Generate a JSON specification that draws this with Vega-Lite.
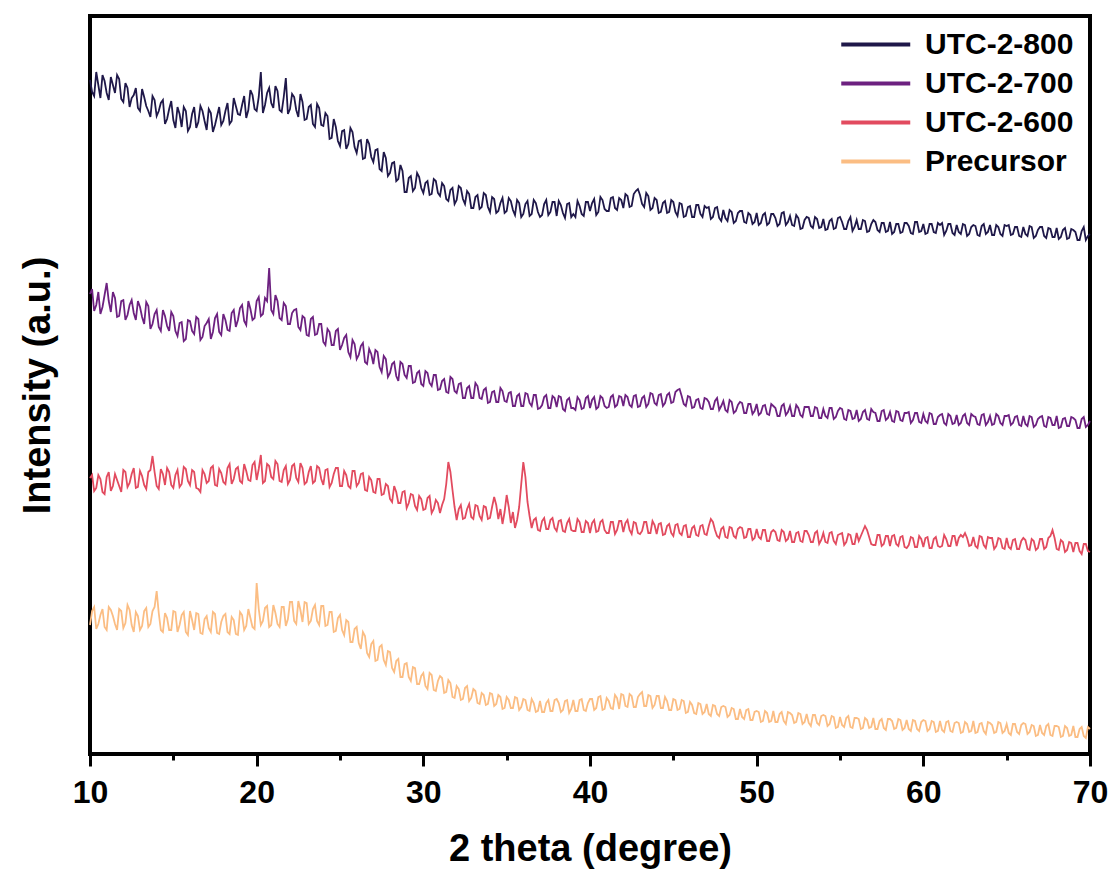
{
  "$schema": "https://vega.github.io/schema/vega-lite/v6.json",
  "width": 1000,
  "height": 738,
  "autosize": {"type": "none"},
  "padding": {"left": 90, "top": 16, "right": 22, "bottom": 119},
  "background": "white",
  "config": {
    "view": {"stroke": "black", "strokeWidth": 4},
    "font": "Liberation Sans"
  },
  "datasets": {
    "utc800": [
      {"t":10,"i":672},{"t":10.125,"i":660},{"t":10.25,"i":656},{"t":10.375,"i":680},{"t":10.5,"i":667},{"t":10.625,"i":654},{"t":10.75,"i":677},{"t":10.875,"i":671},
      {"t":11,"i":659},{"t":11.125,"i":652},{"t":11.25,"i":675},{"t":11.375,"i":667},{"t":11.5,"i":659},{"t":11.625,"i":677},{"t":11.75,"i":673},{"t":11.875,"i":653},
      {"t":12,"i":650},{"t":12.125,"i":669},{"t":12.25,"i":664},{"t":12.375,"i":645},{"t":12.5,"i":654},{"t":12.625,"i":657},{"t":12.75,"i":664},{"t":12.875,"i":644},
      {"t":13,"i":641},{"t":13.125,"i":663},{"t":13.25,"i":655},{"t":13.375,"i":646},{"t":13.5,"i":641},{"t":13.625,"i":635},{"t":13.75,"i":656},{"t":13.875,"i":652},
      {"t":14,"i":636},{"t":14.125,"i":641},{"t":14.25,"i":649},{"t":14.375,"i":652},{"t":14.5,"i":628},{"t":14.625,"i":633},{"t":14.75,"i":643},{"t":14.875,"i":651},
      {"t":15,"i":632},{"t":15.125,"i":624},{"t":15.25,"i":645},{"t":15.375,"i":638},{"t":15.5,"i":625},{"t":15.625,"i":645},{"t":15.75,"i":641},{"t":15.875,"i":621},
      {"t":16,"i":625},{"t":16.125,"i":638},{"t":16.25,"i":645},{"t":16.375,"i":624},{"t":16.5,"i":630},{"t":16.625,"i":646},{"t":16.75,"i":641},{"t":16.875,"i":631},
      {"t":17,"i":622},{"t":17.125,"i":643},{"t":17.25,"i":639},{"t":17.375,"i":620},{"t":17.5,"i":627},{"t":17.625,"i":636},{"t":17.75,"i":645},{"t":17.875,"i":627},
      {"t":18,"i":631},{"t":18.125,"i":641},{"t":18.25,"i":649},{"t":18.375,"i":628},{"t":18.5,"i":631},{"t":18.625,"i":654},{"t":18.75,"i":646},{"t":18.875,"i":638},
      {"t":19,"i":637},{"t":19.125,"i":647},{"t":19.25,"i":656},{"t":19.375,"i":634},{"t":19.5,"i":642},{"t":19.625,"i":662},{"t":19.75,"i":657},{"t":19.875,"i":643},
      {"t":20,"i":641},{"t":20.125,"i":655},{"t":20.25,"i":680},{"t":20.375,"i":639},{"t":20.5,"i":647},{"t":20.625,"i":659},{"t":20.75,"i":664},{"t":20.875,"i":649},
      {"t":21,"i":644},{"t":21.125,"i":666},{"t":21.25,"i":661},{"t":21.375,"i":642},{"t":21.5,"i":640},{"t":21.625,"i":655},{"t":21.75,"i":674},{"t":21.875,"i":638},
      {"t":22,"i":643},{"t":22.125,"i":658},{"t":22.25,"i":655},{"t":22.375,"i":642},{"t":22.5,"i":635},{"t":22.625,"i":658},{"t":22.75,"i":650},{"t":22.875,"i":632},
      {"t":23,"i":633},{"t":23.125,"i":645},{"t":23.25,"i":647},{"t":23.375,"i":628},{"t":23.5,"i":625},{"t":23.625,"i":648},{"t":23.75,"i":644},{"t":23.875,"i":627},
      {"t":24,"i":626},{"t":24.125,"i":639},{"t":24.25,"i":636},{"t":24.375,"i":613},{"t":24.5,"i":614},{"t":24.625,"i":633},{"t":24.75,"i":625},{"t":24.875,"i":611},
      {"t":25,"i":606},{"t":25.125,"i":621},{"t":25.25,"i":622},{"t":25.375,"i":603},{"t":25.5,"i":608},{"t":25.625,"i":624},{"t":25.75,"i":620},{"t":25.875,"i":605},
      {"t":26,"i":599},{"t":26.125,"i":611},{"t":26.25,"i":612},{"t":26.375,"i":593},{"t":26.5,"i":594},{"t":26.625,"i":613},{"t":26.75,"i":608},{"t":26.875,"i":595},
      {"t":27,"i":590},{"t":27.125,"i":602},{"t":27.25,"i":603},{"t":27.375,"i":583},{"t":27.5,"i":581},{"t":27.625,"i":600},{"t":27.75,"i":594},{"t":27.875,"i":576},
      {"t":28,"i":579},{"t":28.125,"i":589},{"t":28.25,"i":590},{"t":28.375,"i":571},{"t":28.5,"i":573},{"t":28.625,"i":587},{"t":28.75,"i":581},{"t":28.875,"i":560},
      {"t":29,"i":560},{"t":29.125,"i":574},{"t":29.25,"i":576},{"t":29.375,"i":561},{"t":29.5,"i":564},{"t":29.625,"i":579},{"t":29.75,"i":575},{"t":29.875,"i":564},
      {"t":30,"i":559},{"t":30.125,"i":569},{"t":30.25,"i":571},{"t":30.375,"i":557},{"t":30.5,"i":558},{"t":30.625,"i":573},{"t":30.75,"i":571},{"t":30.875,"i":559},
      {"t":31,"i":556},{"t":31.125,"i":569},{"t":31.25,"i":566},{"t":31.375,"i":553},{"t":31.5,"i":551},{"t":31.625,"i":562},{"t":31.75,"i":564},{"t":31.875,"i":548},
      {"t":32,"i":552},{"t":32.125,"i":566},{"t":32.25,"i":564},{"t":32.375,"i":553},{"t":32.5,"i":548},{"t":32.625,"i":561},{"t":32.75,"i":558},{"t":32.875,"i":544},
      {"t":33,"i":544},{"t":33.125,"i":555},{"t":33.25,"i":557},{"t":33.375,"i":543},{"t":33.5,"i":545},{"t":33.625,"i":559},{"t":33.75,"i":557},{"t":33.875,"i":545},
      {"t":34,"i":540},{"t":34.125,"i":555},{"t":34.25,"i":553},{"t":34.375,"i":539},{"t":34.5,"i":541},{"t":34.625,"i":549},{"t":34.75,"i":554},{"t":34.875,"i":539},
      {"t":35,"i":541},{"t":35.125,"i":554},{"t":35.25,"i":551},{"t":35.375,"i":542},{"t":35.5,"i":537},{"t":35.625,"i":552},{"t":35.75,"i":549},{"t":35.875,"i":535},
      {"t":36,"i":538},{"t":36.125,"i":548},{"t":36.25,"i":551},{"t":36.375,"i":536},{"t":36.5,"i":538},{"t":36.625,"i":552},{"t":36.75,"i":549},{"t":36.875,"i":540},
      {"t":37,"i":535},{"t":37.125,"i":537},{"t":37.25,"i":548},{"t":37.375,"i":552},{"t":37.5,"i":537},{"t":37.625,"i":540},{"t":37.75,"i":550},{"t":37.875,"i":550},
      {"t":38,"i":536},{"t":38.125,"i":551},{"t":38.25,"i":547},{"t":38.375,"i":539},{"t":38.5,"i":534},{"t":38.625,"i":548},{"t":38.75,"i":549},{"t":38.875,"i":535},
      {"t":39,"i":538},{"t":39.125,"i":535},{"t":39.25,"i":551},{"t":39.375,"i":546},{"t":39.5,"i":538},{"t":39.625,"i":536},{"t":39.75,"i":550},{"t":39.875,"i":550},
      {"t":40,"i":541},{"t":40.125,"i":549},{"t":40.25,"i":553},{"t":40.375,"i":537},{"t":40.5,"i":540},{"t":40.625,"i":555},{"t":40.75,"i":552},{"t":40.875,"i":543},
      {"t":41,"i":541},{"t":41.125,"i":541},{"t":41.25,"i":554},{"t":41.375,"i":555},{"t":41.5,"i":544},{"t":41.625,"i":542},{"t":41.75,"i":554},{"t":41.875,"i":552},
      {"t":42,"i":544},{"t":42.125,"i":558},{"t":42.25,"i":556},{"t":42.375,"i":545},{"t":42.5,"i":546},{"t":42.625,"i":558},{"t":42.75,"i":561},{"t":42.875,"i":563},
      {"t":43,"i":557},{"t":43.125,"i":548},{"t":43.25,"i":545},{"t":43.375,"i":559},{"t":43.5,"i":556},{"t":43.625,"i":542},{"t":43.75,"i":544},{"t":43.875,"i":554},
      {"t":44,"i":552},{"t":44.125,"i":539},{"t":44.25,"i":540},{"t":44.375,"i":549},{"t":44.5,"i":551},{"t":44.625,"i":539},{"t":44.75,"i":540},{"t":44.875,"i":552},
      {"t":45,"i":550},{"t":45.125,"i":540},{"t":45.25,"i":536},{"t":45.375,"i":549},{"t":45.5,"i":548},{"t":45.625,"i":535},{"t":45.75,"i":536},{"t":45.875,"i":545},
      {"t":46,"i":546},{"t":46.125,"i":535},{"t":46.25,"i":535},{"t":46.375,"i":547},{"t":46.5,"i":547},{"t":46.625,"i":538},{"t":46.75,"i":535},{"t":46.875,"i":546},
      {"t":47,"i":544},{"t":47.125,"i":545},{"t":47.25,"i":533},{"t":47.375,"i":535},{"t":47.5,"i":544},{"t":47.625,"i":545},{"t":47.75,"i":534},{"t":47.875,"i":531},
      {"t":48,"i":542},{"t":48.125,"i":534},{"t":48.25,"i":531},{"t":48.375,"i":542},{"t":48.5,"i":540},{"t":48.625,"i":529},{"t":48.75,"i":531},{"t":48.875,"i":539},
      {"t":49,"i":541},{"t":49.125,"i":541},{"t":49.25,"i":530},{"t":49.375,"i":529},{"t":49.5,"i":539},{"t":49.625,"i":537},{"t":49.75,"i":528},{"t":49.875,"i":530},
      {"t":50,"i":539},{"t":50.125,"i":527},{"t":50.25,"i":529},{"t":50.375,"i":537},{"t":50.5,"i":539},{"t":50.625,"i":527},{"t":50.75,"i":529},{"t":50.875,"i":538},
      {"t":51,"i":538},{"t":51.125,"i":534},{"t":51.25,"i":526},{"t":51.375,"i":528},{"t":51.5,"i":539},{"t":51.625,"i":540},{"t":51.75,"i":527},{"t":51.875,"i":530},
      {"t":52,"i":536},{"t":52.125,"i":527},{"t":52.25,"i":526},{"t":52.375,"i":537},{"t":52.5,"i":534},{"t":52.625,"i":523},{"t":52.75,"i":524},{"t":52.875,"i":532},
      {"t":53,"i":535},{"t":53.125,"i":534},{"t":53.25,"i":526},{"t":53.375,"i":524},{"t":53.5,"i":535},{"t":53.625,"i":533},{"t":53.75,"i":524},{"t":53.875,"i":525},
      {"t":54,"i":533},{"t":54.125,"i":522},{"t":54.25,"i":523},{"t":54.375,"i":531},{"t":54.5,"i":533},{"t":54.625,"i":523},{"t":54.75,"i":524},{"t":54.875,"i":534},
      {"t":55,"i":535},{"t":55.125,"i":530},{"t":55.25,"i":523},{"t":55.375,"i":523},{"t":55.5,"i":531},{"t":55.625,"i":535},{"t":55.75,"i":521},{"t":55.875,"i":525},
      {"t":56,"i":532},{"t":56.125,"i":523},{"t":56.25,"i":523},{"t":56.375,"i":532},{"t":56.5,"i":531},{"t":56.625,"i":520},{"t":56.75,"i":521},{"t":56.875,"i":528},
      {"t":57,"i":532},{"t":57.125,"i":530},{"t":57.25,"i":522},{"t":57.375,"i":520},{"t":57.5,"i":529},{"t":57.625,"i":529},{"t":57.75,"i":520},{"t":57.875,"i":521},
      {"t":58,"i":530},{"t":58.125,"i":518},{"t":58.25,"i":520},{"t":58.375,"i":528},{"t":58.5,"i":528},{"t":58.625,"i":519},{"t":58.75,"i":520},{"t":58.875,"i":529},
      {"t":59,"i":529},{"t":59.125,"i":526},{"t":59.25,"i":519},{"t":59.375,"i":518},{"t":59.5,"i":530},{"t":59.625,"i":530},{"t":59.75,"i":520},{"t":59.875,"i":521},
      {"t":60,"i":528},{"t":60.125,"i":518},{"t":60.25,"i":519},{"t":60.375,"i":528},{"t":60.5,"i":528},{"t":60.625,"i":520},{"t":60.75,"i":519},{"t":60.875,"i":529},
      {"t":61,"i":527},{"t":61.125,"i":529},{"t":61.25,"i":517},{"t":61.375,"i":521},{"t":61.5,"i":528},{"t":61.625,"i":528},{"t":61.75,"i":519},{"t":61.875,"i":517},
      {"t":62,"i":527},{"t":62.125,"i":520},{"t":62.25,"i":518},{"t":62.375,"i":528},{"t":62.5,"i":527},{"t":62.625,"i":516},{"t":62.75,"i":518},{"t":62.875,"i":525},
      {"t":63,"i":527},{"t":63.125,"i":526},{"t":63.25,"i":517},{"t":63.375,"i":516},{"t":63.5,"i":526},{"t":63.625,"i":528},{"t":63.75,"i":518},{"t":63.875,"i":520},
      {"t":64,"i":527},{"t":64.125,"i":517},{"t":64.25,"i":517},{"t":64.375,"i":527},{"t":64.5,"i":525},{"t":64.625,"i":518},{"t":64.75,"i":516},{"t":64.875,"i":527},
      {"t":65,"i":526},{"t":65.125,"i":527},{"t":65.25,"i":517},{"t":65.375,"i":518},{"t":65.5,"i":525},{"t":65.625,"i":525},{"t":65.75,"i":516},{"t":65.875,"i":515},
      {"t":66,"i":525},{"t":66.125,"i":518},{"t":66.25,"i":516},{"t":66.375,"i":526},{"t":66.5,"i":525},{"t":66.625,"i":514},{"t":66.75,"i":516},{"t":66.875,"i":522},
      {"t":67,"i":525},{"t":67.125,"i":525},{"t":67.25,"i":516},{"t":67.375,"i":514},{"t":67.5,"i":524},{"t":67.625,"i":523},{"t":67.75,"i":515},{"t":67.875,"i":515},
      {"t":68,"i":524},{"t":68.125,"i":513},{"t":68.25,"i":515},{"t":68.375,"i":522},{"t":68.5,"i":524},{"t":68.625,"i":513},{"t":68.75,"i":514},{"t":68.875,"i":523},
      {"t":69,"i":522},{"t":69.125,"i":520},{"t":69.25,"i":512},{"t":69.375,"i":512},{"t":69.5,"i":521},{"t":69.625,"i":525},{"t":69.75,"i":512},{"t":69.875,"i":516},
      {"t":70,"i":518}
    ],
    "utc700": [
      {"t":10,"i":458},{"t":10.125,"i":463},{"t":10.25,"i":441},{"t":10.375,"i":447},{"t":10.5,"i":460},{"t":10.625,"i":438},{"t":10.75,"i":445},{"t":10.875,"i":457},
      {"t":11,"i":469},{"t":11.125,"i":451},{"t":11.25,"i":440},{"t":11.375,"i":460},{"t":11.5,"i":454},{"t":11.625,"i":435},{"t":11.75,"i":436},{"t":11.875,"i":451},
      {"t":12,"i":452},{"t":12.125,"i":432},{"t":12.25,"i":437},{"t":12.375,"i":447},{"t":12.5,"i":452},{"t":12.625,"i":439},{"t":12.75,"i":432},{"t":12.875,"i":451},
      {"t":13,"i":445},{"t":13.125,"i":435},{"t":13.25,"i":428},{"t":13.375,"i":450},{"t":13.5,"i":446},{"t":13.625,"i":423},{"t":13.75,"i":428},{"t":13.875,"i":438},
      {"t":14,"i":442},{"t":14.125,"i":425},{"t":14.25,"i":421},{"t":14.375,"i":442},{"t":14.5,"i":436},{"t":14.625,"i":426},{"t":14.75,"i":421},{"t":14.875,"i":440},
      {"t":15,"i":436},{"t":15.125,"i":421},{"t":15.25,"i":416},{"t":15.375,"i":429},{"t":15.5,"i":430},{"t":15.625,"i":411},{"t":15.75,"i":413},{"t":15.875,"i":432},
      {"t":16,"i":431},{"t":16.125,"i":421},{"t":16.25,"i":418},{"t":16.375,"i":435},{"t":16.5,"i":433},{"t":16.625,"i":412},{"t":16.75,"i":415},{"t":16.875,"i":426},
      {"t":17,"i":429},{"t":17.125,"i":433},{"t":17.25,"i":413},{"t":17.375,"i":420},{"t":17.5,"i":434},{"t":17.625,"i":438},{"t":17.75,"i":420},{"t":17.875,"i":417},
      {"t":18,"i":438},{"t":18.125,"i":432},{"t":18.25,"i":422},{"t":18.375,"i":421},{"t":18.5,"i":439},{"t":18.625,"i":442},{"t":18.75,"i":425},{"t":18.875,"i":432},
      {"t":19,"i":444},{"t":19.125,"i":447},{"t":19.25,"i":431},{"t":19.375,"i":427},{"t":19.5,"i":451},{"t":19.625,"i":443},{"t":19.75,"i":432},{"t":19.875,"i":434},
      {"t":20,"i":451},{"t":20.125,"i":455},{"t":20.25,"i":436},{"t":20.375,"i":438},{"t":20.5,"i":454},{"t":20.625,"i":451},{"t":20.75,"i":484},{"t":20.875,"i":442},
      {"t":21,"i":438},{"t":21.125,"i":457},{"t":21.25,"i":451},{"t":21.375,"i":434},{"t":21.5,"i":432},{"t":21.625,"i":449},{"t":21.75,"i":446},{"t":21.875,"i":428},
      {"t":22,"i":428},{"t":22.125,"i":439},{"t":22.25,"i":442},{"t":22.375,"i":443},{"t":22.5,"i":425},{"t":22.625,"i":422},{"t":22.75,"i":436},{"t":22.875,"i":434},
      {"t":23,"i":417},{"t":23.125,"i":416},{"t":23.25,"i":433},{"t":23.375,"i":435},{"t":23.5,"i":417},{"t":23.625,"i":418},{"t":23.75,"i":428},{"t":23.875,"i":428},
      {"t":24,"i":410},{"t":24.125,"i":407},{"t":24.25,"i":423},{"t":24.375,"i":420},{"t":24.5,"i":407},{"t":24.625,"i":407},{"t":24.75,"i":421},{"t":24.875,"i":423},
      {"t":25,"i":402},{"t":25.125,"i":407},{"t":25.25,"i":414},{"t":25.375,"i":417},{"t":25.5,"i":400},{"t":25.625,"i":395},{"t":25.75,"i":412},{"t":25.875,"i":408},
      {"t":26,"i":393},{"t":26.125,"i":397},{"t":26.25,"i":406},{"t":26.375,"i":409},{"t":26.5,"i":390},{"t":26.625,"i":388},{"t":26.75,"i":403},{"t":26.875,"i":398},
      {"t":27,"i":388},{"t":27.125,"i":402},{"t":27.25,"i":400},{"t":27.375,"i":385},{"t":27.5,"i":380},{"t":27.625,"i":396},{"t":27.75,"i":393},{"t":27.875,"i":375},
      {"t":28,"i":379},{"t":28.125,"i":388},{"t":28.25,"i":390},{"t":28.375,"i":376},{"t":28.5,"i":371},{"t":28.625,"i":390},{"t":28.75,"i":388},{"t":28.875,"i":377},
      {"t":29,"i":374},{"t":29.125,"i":386},{"t":29.25,"i":386},{"t":29.375,"i":369},{"t":29.5,"i":370},{"t":29.625,"i":379},{"t":29.75,"i":381},{"t":29.875,"i":368},
      {"t":30,"i":366},{"t":30.125,"i":381},{"t":30.25,"i":379},{"t":30.375,"i":369},{"t":30.5,"i":366},{"t":30.625,"i":377},{"t":30.75,"i":377},{"t":30.875,"i":362},
      {"t":31,"i":363},{"t":31.125,"i":371},{"t":31.25,"i":373},{"t":31.375,"i":360},{"t":31.5,"i":359},{"t":31.625,"i":375},{"t":31.75,"i":373},{"t":31.875,"i":361},
      {"t":32,"i":359},{"t":32.125,"i":368},{"t":32.25,"i":369},{"t":32.375,"i":354},{"t":32.5,"i":354},{"t":32.625,"i":364},{"t":32.75,"i":366},{"t":32.875,"i":354},
      {"t":33,"i":354},{"t":33.125,"i":369},{"t":33.25,"i":366},{"t":33.375,"i":354},{"t":33.5,"i":353},{"t":33.625,"i":362},{"t":33.75,"i":364},{"t":33.875,"i":349},
      {"t":34,"i":350},{"t":34.125,"i":360},{"t":34.25,"i":361},{"t":34.375,"i":350},{"t":34.5,"i":350},{"t":34.625,"i":364},{"t":34.75,"i":361},{"t":34.875,"i":351},
      {"t":35,"i":350},{"t":35.125,"i":359},{"t":35.25,"i":360},{"t":35.375,"i":346},{"t":35.5,"i":346},{"t":35.625,"i":356},{"t":35.75,"i":358},{"t":35.875,"i":346},
      {"t":36,"i":346},{"t":36.125,"i":359},{"t":36.25,"i":358},{"t":36.375,"i":349},{"t":36.5,"i":346},{"t":36.625,"i":357},{"t":36.75,"i":357},{"t":36.875,"i":343},
      {"t":37,"i":344},{"t":37.125,"i":347},{"t":37.25,"i":355},{"t":37.375,"i":357},{"t":37.5,"i":344},{"t":37.625,"i":344},{"t":37.75,"i":356},{"t":37.875,"i":354},
      {"t":38,"i":345},{"t":38.125,"i":356},{"t":38.25,"i":355},{"t":38.375,"i":343},{"t":38.5,"i":341},{"t":38.625,"i":352},{"t":38.75,"i":354},{"t":38.875,"i":344},
      {"t":39,"i":344},{"t":39.125,"i":342},{"t":39.25,"i":355},{"t":39.375,"i":352},{"t":39.5,"i":343},{"t":39.625,"i":344},{"t":39.75,"i":354},{"t":39.875,"i":356},
      {"t":40,"i":344},{"t":40.125,"i":352},{"t":40.25,"i":355},{"t":40.375,"i":343},{"t":40.5,"i":345},{"t":40.625,"i":356},{"t":40.75,"i":354},{"t":40.875,"i":346},
      {"t":41,"i":344},{"t":41.125,"i":345},{"t":41.25,"i":355},{"t":41.375,"i":357},{"t":41.5,"i":345},{"t":41.625,"i":347},{"t":41.75,"i":356},{"t":41.875,"i":355},
      {"t":42,"i":346},{"t":42.125,"i":357},{"t":42.25,"i":355},{"t":42.375,"i":347},{"t":42.5,"i":345},{"t":42.625,"i":356},{"t":42.75,"i":357},{"t":42.875,"i":345},
      {"t":43,"i":346},{"t":43.125,"i":354},{"t":43.25,"i":356},{"t":43.375,"i":345},{"t":43.5,"i":348},{"t":43.625,"i":359},{"t":43.75,"i":358},{"t":43.875,"i":349},
      {"t":44,"i":347},{"t":44.125,"i":357},{"t":44.25,"i":358},{"t":44.375,"i":346},{"t":44.5,"i":349},{"t":44.625,"i":357},{"t":44.75,"i":359},{"t":44.875,"i":349},
      {"t":45,"i":350},{"t":45.125,"i":360},{"t":45.25,"i":362},{"t":45.375,"i":363},{"t":45.5,"i":356},{"t":45.625,"i":348},{"t":45.75,"i":346},{"t":45.875,"i":356},
      {"t":46,"i":355},{"t":46.125,"i":344},{"t":46.25,"i":345},{"t":46.375,"i":352},{"t":46.5,"i":353},{"t":46.625,"i":344},{"t":46.75,"i":343},{"t":46.875,"i":354},
      {"t":47,"i":353},{"t":47.125,"i":350},{"t":47.25,"i":343},{"t":47.375,"i":343},{"t":47.5,"i":351},{"t":47.625,"i":354},{"t":47.75,"i":342},{"t":47.875,"i":346},
      {"t":48,"i":351},{"t":48.125,"i":342},{"t":48.25,"i":340},{"t":48.375,"i":352},{"t":48.5,"i":350},{"t":48.625,"i":339},{"t":48.75,"i":341},{"t":48.875,"i":347},
      {"t":49,"i":350},{"t":49.125,"i":349},{"t":49.25,"i":339},{"t":49.375,"i":339},{"t":49.5,"i":348},{"t":49.625,"i":348},{"t":49.75,"i":338},{"t":49.875,"i":341},
      {"t":50,"i":348},{"t":50.125,"i":337},{"t":50.25,"i":339},{"t":50.375,"i":346},{"t":50.5,"i":347},{"t":50.625,"i":338},{"t":50.75,"i":337},{"t":50.875,"i":348},
      {"t":51,"i":346},{"t":51.125,"i":344},{"t":51.25,"i":336},{"t":51.375,"i":336},{"t":51.5,"i":346},{"t":51.625,"i":348},{"t":51.75,"i":337},{"t":51.875,"i":340},
      {"t":52,"i":346},{"t":52.125,"i":336},{"t":52.25,"i":336},{"t":52.375,"i":347},{"t":52.5,"i":344},{"t":52.625,"i":337},{"t":52.75,"i":335},{"t":52.875,"i":345},
      {"t":53,"i":345},{"t":53.125,"i":345},{"t":53.25,"i":336},{"t":53.375,"i":336},{"t":53.5,"i":345},{"t":53.625,"i":344},{"t":53.75,"i":334},{"t":53.875,"i":334},
      {"t":54,"i":343},{"t":54.125,"i":336},{"t":54.25,"i":334},{"t":54.375,"i":344},{"t":54.5,"i":344},{"t":54.625,"i":333},{"t":54.75,"i":335},{"t":54.875,"i":341},
      {"t":55,"i":344},{"t":55.125,"i":343},{"t":55.25,"i":333},{"t":55.375,"i":332},{"t":55.5,"i":342},{"t":55.625,"i":341},{"t":55.75,"i":333},{"t":55.875,"i":334},
      {"t":56,"i":342},{"t":56.125,"i":331},{"t":56.25,"i":333},{"t":56.375,"i":340},{"t":56.5,"i":342},{"t":56.625,"i":333},{"t":56.75,"i":332},{"t":56.875,"i":343},
      {"t":57,"i":340},{"t":57.125,"i":339},{"t":57.25,"i":331},{"t":57.375,"i":331},{"t":57.5,"i":341},{"t":57.625,"i":342},{"t":57.75,"i":332},{"t":57.875,"i":334},
      {"t":58,"i":340},{"t":58.125,"i":331},{"t":58.25,"i":330},{"t":58.375,"i":341},{"t":58.5,"i":340},{"t":58.625,"i":332},{"t":58.75,"i":331},{"t":58.875,"i":339},
      {"t":59,"i":339},{"t":59.125,"i":340},{"t":59.25,"i":329},{"t":59.375,"i":332},{"t":59.5,"i":339},{"t":59.625,"i":339},{"t":59.75,"i":330},{"t":59.875,"i":329},
      {"t":60,"i":338},{"t":60.125,"i":331},{"t":60.25,"i":329},{"t":60.375,"i":339},{"t":60.5,"i":338},{"t":60.625,"i":328},{"t":60.75,"i":328},{"t":60.875,"i":335},
      {"t":61,"i":337},{"t":61.125,"i":338},{"t":61.25,"i":329},{"t":61.375,"i":327},{"t":61.5,"i":338},{"t":61.625,"i":336},{"t":61.75,"i":328},{"t":61.875,"i":329},
      {"t":62,"i":337},{"t":62.125,"i":327},{"t":62.25,"i":329},{"t":62.375,"i":336},{"t":62.5,"i":338},{"t":62.625,"i":329},{"t":62.75,"i":327},{"t":62.875,"i":338},
      {"t":63,"i":336},{"t":63.125,"i":335},{"t":63.25,"i":328},{"t":63.375,"i":327},{"t":63.5,"i":337},{"t":63.625,"i":338},{"t":63.75,"i":327},{"t":63.875,"i":330},
      {"t":64,"i":336},{"t":64.125,"i":327},{"t":64.25,"i":328},{"t":64.375,"i":338},{"t":64.5,"i":336},{"t":64.625,"i":329},{"t":64.75,"i":327},{"t":64.875,"i":336},
      {"t":65,"i":336},{"t":65.125,"i":337},{"t":65.25,"i":327},{"t":65.375,"i":329},{"t":65.5,"i":335},{"t":65.625,"i":336},{"t":65.75,"i":327},{"t":65.875,"i":326},
      {"t":66,"i":336},{"t":66.125,"i":328},{"t":66.25,"i":326},{"t":66.375,"i":336},{"t":66.5,"i":335},{"t":66.625,"i":325},{"t":66.75,"i":327},{"t":66.875,"i":333},
      {"t":67,"i":335},{"t":67.125,"i":336},{"t":67.25,"i":326},{"t":67.375,"i":325},{"t":67.5,"i":335},{"t":67.625,"i":334},{"t":67.75,"i":327},{"t":67.875,"i":327},
      {"t":68,"i":336},{"t":68.125,"i":324},{"t":68.25,"i":325},{"t":68.375,"i":333},{"t":68.5,"i":334},{"t":68.625,"i":326},{"t":68.75,"i":326},{"t":68.875,"i":335},
      {"t":69,"i":334},{"t":69.125,"i":332},{"t":69.25,"i":324},{"t":69.375,"i":324},{"t":69.5,"i":333},{"t":69.625,"i":335},{"t":69.75,"i":325},{"t":69.875,"i":327},
      {"t":70,"i":331}
    ],
    "utc600": [
      {"t":10,"i":274},{"t":10.125,"i":277},{"t":10.25,"i":261},{"t":10.375,"i":264},{"t":10.5,"i":277},{"t":10.625,"i":273},{"t":10.75,"i":260},{"t":10.875,"i":258},
      {"t":11,"i":275},{"t":11.125,"i":280},{"t":11.25,"i":261},{"t":11.375,"i":266},{"t":11.5,"i":278},{"t":11.625,"i":272},{"t":11.75,"i":266},{"t":11.875,"i":260},
      {"t":12,"i":282},{"t":12.125,"i":280},{"t":12.25,"i":265},{"t":12.375,"i":269},{"t":12.5,"i":278},{"t":12.625,"i":284},{"t":12.75,"i":264},{"t":12.875,"i":265},
      {"t":13,"i":281},{"t":13.125,"i":276},{"t":13.25,"i":267},{"t":13.375,"i":263},{"t":13.5,"i":280},{"t":13.625,"i":282},{"t":13.75,"i":296},{"t":13.875,"i":280},
      {"t":14,"i":266},{"t":14.125,"i":263},{"t":14.25,"i":283},{"t":14.375,"i":278},{"t":14.5,"i":267},{"t":14.625,"i":284},{"t":14.75,"i":280},{"t":14.875,"i":267},
      {"t":15,"i":264},{"t":15.125,"i":277},{"t":15.25,"i":282},{"t":15.375,"i":265},{"t":15.5,"i":268},{"t":15.625,"i":285},{"t":15.75,"i":283},{"t":15.875,"i":271},
      {"t":16,"i":267},{"t":16.125,"i":282},{"t":16.25,"i":280},{"t":16.375,"i":264},{"t":16.5,"i":263},{"t":16.625,"i":260},{"t":16.75,"i":282},{"t":16.875,"i":278},
      {"t":17,"i":269},{"t":17.125,"i":271},{"t":17.25,"i":284},{"t":17.375,"i":286},{"t":17.5,"i":267},{"t":17.625,"i":266},{"t":17.75,"i":283},{"t":17.875,"i":279},
      {"t":18,"i":270},{"t":18.125,"i":268},{"t":18.25,"i":284},{"t":18.375,"i":288},{"t":18.5,"i":268},{"t":18.625,"i":273},{"t":18.75,"i":283},{"t":18.875,"i":285},
      {"t":19,"i":271},{"t":19.125,"i":269},{"t":19.25,"i":288},{"t":19.375,"i":281},{"t":19.5,"i":272},{"t":19.625,"i":271},{"t":19.75,"i":287},{"t":19.875,"i":290},
      {"t":20,"i":272},{"t":20.125,"i":283},{"t":20.25,"i":297},{"t":20.375,"i":269},{"t":20.5,"i":271},{"t":20.625,"i":288},{"t":20.75,"i":286},{"t":20.875,"i":275},
      {"t":21,"i":273},{"t":21.125,"i":291},{"t":21.25,"i":288},{"t":21.375,"i":271},{"t":21.5,"i":270},{"t":21.625,"i":282},{"t":21.75,"i":286},{"t":21.875,"i":268},
      {"t":22,"i":272},{"t":22.125,"i":286},{"t":22.25,"i":288},{"t":22.375,"i":274},{"t":22.5,"i":270},{"t":22.625,"i":289},{"t":22.75,"i":284},{"t":22.875,"i":268},
      {"t":23,"i":270},{"t":23.125,"i":280},{"t":23.25,"i":286},{"t":23.375,"i":269},{"t":23.5,"i":271},{"t":23.625,"i":286},{"t":23.75,"i":284},{"t":23.875,"i":273},
      {"t":24,"i":267},{"t":24.125,"i":282},{"t":24.25,"i":283},{"t":24.375,"i":265},{"t":24.5,"i":269},{"t":24.625,"i":278},{"t":24.75,"i":284},{"t":24.875,"i":284},
      {"t":25,"i":266},{"t":25.125,"i":266},{"t":25.25,"i":281},{"t":25.375,"i":277},{"t":25.5,"i":266},{"t":25.625,"i":264},{"t":25.75,"i":281},{"t":25.875,"i":281},
      {"t":26,"i":266},{"t":26.125,"i":269},{"t":26.25,"i":278},{"t":26.375,"i":279},{"t":26.5,"i":262},{"t":26.625,"i":261},{"t":26.75,"i":275},{"t":26.875,"i":272},
      {"t":27,"i":260},{"t":27.125,"i":259},{"t":27.25,"i":273},{"t":27.375,"i":273},{"t":27.5,"i":257},{"t":27.625,"i":258},{"t":27.75,"i":268},{"t":27.875,"i":266},
      {"t":28,"i":253},{"t":28.125,"i":250},{"t":28.25,"i":266},{"t":28.375,"i":260},{"t":28.5,"i":249},{"t":28.625,"i":249},{"t":28.75,"i":260},{"t":28.875,"i":261},
      {"t":29,"i":244},{"t":29.125,"i":249},{"t":29.25,"i":258},{"t":29.375,"i":257},{"t":29.5,"i":246},{"t":29.625,"i":242},{"t":29.75,"i":256},{"t":29.875,"i":253},
      {"t":30,"i":242},{"t":30.125,"i":243},{"t":30.25,"i":254},{"t":30.375,"i":256},{"t":30.5,"i":239},{"t":30.625,"i":243},{"t":30.75,"i":252},{"t":30.875,"i":249},
      {"t":31,"i":239},{"t":31.125,"i":247},{"t":31.25,"i":253},{"t":31.375,"i":268},{"t":31.5,"i":290},{"t":31.625,"i":280},{"t":31.75,"i":262},{"t":31.875,"i":245},
      {"t":32,"i":232},{"t":32.125,"i":243},{"t":32.25,"i":247},{"t":32.375,"i":233},{"t":32.5,"i":234},{"t":32.625,"i":243},{"t":32.75,"i":248},{"t":32.875,"i":235},
      {"t":33,"i":233},{"t":33.125,"i":247},{"t":33.25,"i":246},{"t":33.375,"i":236},{"t":33.5,"i":232},{"t":33.625,"i":246},{"t":33.75,"i":245},{"t":33.875,"i":233},
      {"t":34,"i":234},{"t":34.125,"i":245},{"t":34.25,"i":255},{"t":34.375,"i":247},{"t":34.5,"i":233},{"t":34.625,"i":243},{"t":34.75,"i":228},{"t":34.875,"i":240},
      {"t":35,"i":257},{"t":35.125,"i":245},{"t":35.25,"i":229},{"t":35.375,"i":240},{"t":35.5,"i":224},{"t":35.625,"i":232},{"t":35.75,"i":245},{"t":35.875,"i":268},
      {"t":36,"i":290},{"t":36.125,"i":275},{"t":36.25,"i":250},{"t":36.375,"i":236},{"t":36.5,"i":224},{"t":36.625,"i":232},{"t":36.75,"i":234},{"t":36.875,"i":222},
      {"t":37,"i":221},{"t":37.125,"i":231},{"t":37.25,"i":234},{"t":37.375,"i":223},{"t":37.5,"i":223},{"t":37.625,"i":232},{"t":37.75,"i":234},{"t":37.875,"i":224},
      {"t":38,"i":221},{"t":38.125,"i":231},{"t":38.25,"i":232},{"t":38.375,"i":221},{"t":38.5,"i":220},{"t":38.625,"i":229},{"t":38.75,"i":233},{"t":38.875,"i":222},
      {"t":39,"i":221},{"t":39.125,"i":221},{"t":39.25,"i":233},{"t":39.375,"i":230},{"t":39.5,"i":220},{"t":39.625,"i":220},{"t":39.75,"i":231},{"t":39.875,"i":229},
      {"t":40,"i":219},{"t":40.125,"i":229},{"t":40.25,"i":232},{"t":40.375,"i":220},{"t":40.5,"i":221},{"t":40.625,"i":230},{"t":40.75,"i":232},{"t":40.875,"i":222},
      {"t":41,"i":219},{"t":41.125,"i":219},{"t":41.25,"i":230},{"t":41.375,"i":230},{"t":41.5,"i":218},{"t":41.625,"i":222},{"t":41.75,"i":231},{"t":41.875,"i":231},
      {"t":42,"i":220},{"t":42.125,"i":229},{"t":42.25,"i":232},{"t":42.375,"i":222},{"t":42.5,"i":218},{"t":42.625,"i":230},{"t":42.75,"i":229},{"t":42.875,"i":219},
      {"t":43,"i":218},{"t":43.125,"i":221},{"t":43.25,"i":230},{"t":43.375,"i":230},{"t":43.5,"i":219},{"t":43.625,"i":219},{"t":43.75,"i":231},{"t":43.875,"i":227},
      {"t":44,"i":218},{"t":44.125,"i":228},{"t":44.25,"i":229},{"t":44.375,"i":217},{"t":44.5,"i":218},{"t":44.625,"i":226},{"t":44.75,"i":228},{"t":44.875,"i":219},
      {"t":45,"i":216},{"t":45.125,"i":227},{"t":45.25,"i":228},{"t":45.375,"i":219},{"t":45.5,"i":217},{"t":45.625,"i":226},{"t":45.75,"i":227},{"t":45.875,"i":215},
      {"t":46,"i":215},{"t":46.125,"i":224},{"t":46.25,"i":226},{"t":46.375,"i":217},{"t":46.5,"i":216},{"t":46.625,"i":226},{"t":46.75,"i":227},{"t":46.875,"i":218},
      {"t":47,"i":217},{"t":47.125,"i":226},{"t":47.25,"i":233},{"t":47.375,"i":230},{"t":47.5,"i":222},{"t":47.625,"i":216},{"t":47.75,"i":214},{"t":47.875,"i":223},
      {"t":48,"i":225},{"t":48.125,"i":215},{"t":48.25,"i":214},{"t":48.375,"i":225},{"t":48.5,"i":224},{"t":48.625,"i":216},{"t":48.75,"i":214},{"t":48.875,"i":223},
      {"t":49,"i":225},{"t":49.125,"i":224},{"t":49.25,"i":214},{"t":49.375,"i":215},{"t":49.5,"i":223},{"t":49.625,"i":223},{"t":49.75,"i":212},{"t":49.875,"i":214},
      {"t":50,"i":223},{"t":50.125,"i":215},{"t":50.25,"i":213},{"t":50.375,"i":222},{"t":50.5,"i":222},{"t":50.625,"i":211},{"t":50.75,"i":211},{"t":50.875,"i":220},
      {"t":51,"i":222},{"t":51.125,"i":220},{"t":51.25,"i":212},{"t":51.375,"i":211},{"t":51.5,"i":222},{"t":51.625,"i":220},{"t":51.75,"i":211},{"t":51.875,"i":213},
      {"t":52,"i":221},{"t":52.125,"i":210},{"t":52.25,"i":210},{"t":52.375,"i":219},{"t":52.5,"i":220},{"t":52.625,"i":211},{"t":52.75,"i":210},{"t":52.875,"i":221},
      {"t":53,"i":221},{"t":53.125,"i":217},{"t":53.25,"i":210},{"t":53.375,"i":210},{"t":53.5,"i":219},{"t":53.625,"i":221},{"t":53.75,"i":208},{"t":53.875,"i":212},
      {"t":54,"i":219},{"t":54.125,"i":210},{"t":54.25,"i":209},{"t":54.375,"i":219},{"t":54.5,"i":220},{"t":54.625,"i":211},{"t":54.75,"i":208},{"t":54.875,"i":217},
      {"t":55,"i":218},{"t":55.125,"i":219},{"t":55.25,"i":207},{"t":55.375,"i":210},{"t":55.5,"i":218},{"t":55.625,"i":217},{"t":55.75,"i":208},{"t":55.875,"i":208},
      {"t":56,"i":219},{"t":56.125,"i":211},{"t":56.25,"i":216},{"t":56.375,"i":221},{"t":56.5,"i":226},{"t":56.625,"i":222},{"t":56.75,"i":215},{"t":56.875,"i":208},
      {"t":57,"i":207},{"t":57.125,"i":207},{"t":57.25,"i":217},{"t":57.375,"i":217},{"t":57.5,"i":206},{"t":57.625,"i":208},{"t":57.75,"i":216},{"t":57.875,"i":216},
      {"t":58,"i":206},{"t":58.125,"i":216},{"t":58.25,"i":217},{"t":58.375,"i":208},{"t":58.5,"i":206},{"t":58.625,"i":215},{"t":58.75,"i":216},{"t":58.875,"i":205},
      {"t":59,"i":204},{"t":59.125,"i":207},{"t":59.25,"i":215},{"t":59.375,"i":214},{"t":59.5,"i":205},{"t":59.625,"i":205},{"t":59.75,"i":216},{"t":59.875,"i":213},
      {"t":60,"i":205},{"t":60.125,"i":214},{"t":60.25,"i":215},{"t":60.375,"i":204},{"t":60.5,"i":204},{"t":60.625,"i":213},{"t":60.75,"i":215},{"t":60.875,"i":206},
      {"t":61,"i":205},{"t":61.125,"i":206},{"t":61.25,"i":217},{"t":61.375,"i":213},{"t":61.5,"i":206},{"t":61.625,"i":206},{"t":61.75,"i":216},{"t":61.875,"i":216},
      {"t":62,"i":206},{"t":62.125,"i":214},{"t":62.25,"i":217},{"t":62.375,"i":215},{"t":62.5,"i":219},{"t":62.625,"i":214},{"t":62.75,"i":206},{"t":62.875,"i":207},
      {"t":63,"i":215},{"t":63.125,"i":206},{"t":63.25,"i":204},{"t":63.375,"i":216},{"t":63.5,"i":215},{"t":63.625,"i":207},{"t":63.75,"i":204},{"t":63.875,"i":215},
      {"t":64,"i":214},{"t":64.125,"i":214},{"t":64.25,"i":203},{"t":64.375,"i":206},{"t":64.5,"i":214},{"t":64.625,"i":213},{"t":64.75,"i":204},{"t":64.875,"i":203},
      {"t":65,"i":214},{"t":65.125,"i":205},{"t":65.25,"i":203},{"t":65.375,"i":212},{"t":65.5,"i":213},{"t":65.625,"i":203},{"t":65.75,"i":203},{"t":65.875,"i":211},
      {"t":66,"i":214},{"t":66.125,"i":212},{"t":66.25,"i":203},{"t":66.375,"i":202},{"t":66.5,"i":213},{"t":66.625,"i":211},{"t":66.75,"i":202},{"t":66.875,"i":204},
      {"t":67,"i":213},{"t":67.125,"i":213},{"t":67.25,"i":203},{"t":67.375,"i":205},{"t":67.5,"i":214},{"t":67.625,"i":216},{"t":67.75,"i":222},{"t":67.875,"i":214},
      {"t":68,"i":203},{"t":68.125,"i":202},{"t":68.25,"i":212},{"t":68.375,"i":210},{"t":68.5,"i":200},{"t":68.625,"i":202},{"t":68.75,"i":210},{"t":68.875,"i":209},
      {"t":69,"i":200},{"t":69.125,"i":209},{"t":69.25,"i":209},{"t":69.375,"i":201},{"t":69.5,"i":198},{"t":69.625,"i":208},{"t":69.75,"i":208},{"t":69.875,"i":201},
      {"t":70,"i":200}
    ],
    "precursor": [
      {"t":10,"i":127},{"t":10.125,"i":141},{"t":10.25,"i":145},{"t":10.375,"i":123},{"t":10.5,"i":128},{"t":10.625,"i":137},{"t":10.75,"i":143},{"t":10.875,"i":125},
      {"t":11,"i":122},{"t":11.125,"i":145},{"t":11.25,"i":142},{"t":11.375,"i":136},{"t":11.5,"i":128},{"t":11.625,"i":122},{"t":11.75,"i":143},{"t":11.875,"i":141},
      {"t":12,"i":124},{"t":12.125,"i":129},{"t":12.25,"i":147},{"t":12.375,"i":142},{"t":12.5,"i":127},{"t":12.625,"i":120},{"t":12.75,"i":140},{"t":12.875,"i":136},
      {"t":13,"i":122},{"t":13.125,"i":126},{"t":13.25,"i":141},{"t":13.375,"i":144},{"t":13.5,"i":125},{"t":13.625,"i":128},{"t":13.75,"i":141},{"t":13.875,"i":145},
      {"t":14,"i":161},{"t":14.125,"i":139},{"t":14.25,"i":122},{"t":14.375,"i":120},{"t":14.5,"i":139},{"t":14.625,"i":134},{"t":14.75,"i":122},{"t":14.875,"i":122},
      {"t":15,"i":141},{"t":15.125,"i":140},{"t":15.25,"i":120},{"t":15.375,"i":127},{"t":15.5,"i":137},{"t":15.625,"i":140},{"t":15.75,"i":120},{"t":15.875,"i":117},
      {"t":16,"i":141},{"t":16.125,"i":132},{"t":16.25,"i":122},{"t":16.375,"i":139},{"t":16.5,"i":138},{"t":16.625,"i":119},{"t":16.75,"i":118},{"t":16.875,"i":133},
      {"t":17,"i":136},{"t":17.125,"i":124},{"t":17.25,"i":120},{"t":17.375,"i":140},{"t":17.5,"i":138},{"t":17.625,"i":119},{"t":17.75,"i":118},{"t":17.875,"i":130},
      {"t":18,"i":136},{"t":18.125,"i":138},{"t":18.25,"i":120},{"t":18.375,"i":118},{"t":18.5,"i":135},{"t":18.625,"i":132},{"t":18.75,"i":118},{"t":18.875,"i":117},
      {"t":19,"i":140},{"t":19.125,"i":137},{"t":19.25,"i":122},{"t":19.375,"i":126},{"t":19.5,"i":143},{"t":19.625,"i":134},{"t":19.75,"i":125},{"t":19.875,"i":123},
      {"t":20,"i":169},{"t":20.125,"i":143},{"t":20.25,"i":127},{"t":20.375,"i":131},{"t":20.5,"i":144},{"t":20.625,"i":146},{"t":20.75,"i":125},{"t":20.875,"i":127},
      {"t":21,"i":147},{"t":21.125,"i":139},{"t":21.25,"i":128},{"t":21.375,"i":125},{"t":21.5,"i":145},{"t":21.625,"i":145},{"t":21.75,"i":126},{"t":21.875,"i":133},
      {"t":22,"i":150},{"t":22.125,"i":150},{"t":22.25,"i":131},{"t":22.375,"i":128},{"t":22.5,"i":151},{"t":22.625,"i":142},{"t":22.75,"i":130},{"t":22.875,"i":150},
      {"t":23,"i":149},{"t":23.125,"i":128},{"t":23.25,"i":131},{"t":23.375,"i":143},{"t":23.5,"i":147},{"t":23.625,"i":131},{"t":23.75,"i":127},{"t":23.875,"i":146},
      {"t":24,"i":146},{"t":24.125,"i":126},{"t":24.25,"i":127},{"t":24.375,"i":140},{"t":24.5,"i":140},{"t":24.625,"i":120},{"t":24.75,"i":121},{"t":24.875,"i":134},
      {"t":25,"i":137},{"t":25.125,"i":122},{"t":25.25,"i":117},{"t":25.375,"i":132},{"t":25.5,"i":130},{"t":25.625,"i":110},{"t":25.75,"i":110},{"t":25.875,"i":123},
      {"t":26,"i":125},{"t":26.125,"i":109},{"t":26.25,"i":103},{"t":26.375,"i":120},{"t":26.5,"i":116},{"t":26.625,"i":99},{"t":26.75,"i":95},{"t":26.875,"i":108},
      {"t":27,"i":111},{"t":27.125,"i":91},{"t":27.25,"i":92},{"t":27.375,"i":105},{"t":27.5,"i":107},{"t":27.625,"i":92},{"t":27.75,"i":87},{"t":27.875,"i":101},
      {"t":28,"i":100},{"t":28.125,"i":84},{"t":28.25,"i":80},{"t":28.375,"i":91},{"t":28.5,"i":93},{"t":28.625,"i":75},{"t":28.75,"i":75},{"t":28.875,"i":88},
      {"t":29,"i":89},{"t":29.125,"i":75},{"t":29.25,"i":71},{"t":29.375,"i":85},{"t":29.5,"i":84},{"t":29.625,"i":68},{"t":29.75,"i":68},{"t":29.875,"i":76},
      {"t":30,"i":79},{"t":30.125,"i":66},{"t":30.25,"i":63},{"t":30.375,"i":79},{"t":30.5,"i":77},{"t":30.625,"i":62},{"t":30.75,"i":61},{"t":30.875,"i":71},
      {"t":31,"i":76},{"t":31.125,"i":74},{"t":31.25,"i":59},{"t":31.375,"i":60},{"t":31.5,"i":72},{"t":31.625,"i":69},{"t":31.75,"i":55},{"t":31.875,"i":54},
      {"t":32,"i":66},{"t":32.125,"i":63},{"t":32.25,"i":52},{"t":32.375,"i":53},{"t":32.5,"i":64},{"t":32.625,"i":66},{"t":32.75,"i":51},{"t":32.875,"i":54},
      {"t":33,"i":63},{"t":33.125,"i":61},{"t":33.25,"i":49},{"t":33.375,"i":48},{"t":33.5,"i":59},{"t":33.625,"i":57},{"t":33.75,"i":47},{"t":33.875,"i":48},
      {"t":34,"i":59},{"t":34.125,"i":58},{"t":34.25,"i":46},{"t":34.375,"i":48},{"t":34.5,"i":57},{"t":34.625,"i":55},{"t":34.75,"i":43},{"t":34.875,"i":44},
      {"t":35,"i":55},{"t":35.125,"i":52},{"t":35.25,"i":44},{"t":35.375,"i":44},{"t":35.5,"i":55},{"t":35.625,"i":54},{"t":35.75,"i":42},{"t":35.875,"i":45},
      {"t":36,"i":53},{"t":36.125,"i":52},{"t":36.25,"i":42},{"t":36.375,"i":41},{"t":36.5,"i":53},{"t":36.625,"i":49},{"t":36.75,"i":40},{"t":36.875,"i":41},
      {"t":37,"i":51},{"t":37.125,"i":40},{"t":37.25,"i":40},{"t":37.375,"i":49},{"t":37.5,"i":52},{"t":37.625,"i":41},{"t":37.75,"i":41},{"t":37.875,"i":52},
      {"t":38,"i":53},{"t":38.125,"i":49},{"t":38.25,"i":40},{"t":38.375,"i":42},{"t":38.5,"i":51},{"t":38.625,"i":52},{"t":38.75,"i":39},{"t":38.875,"i":43},
      {"t":39,"i":52},{"t":39.125,"i":41},{"t":39.25,"i":41},{"t":39.375,"i":52},{"t":39.5,"i":53},{"t":39.625,"i":42},{"t":39.75,"i":41},{"t":39.875,"i":49},
      {"t":40,"i":53},{"t":40.125,"i":53},{"t":40.25,"i":42},{"t":40.375,"i":44},{"t":40.5,"i":55},{"t":40.625,"i":56},{"t":40.75,"i":42},{"t":40.875,"i":43},
      {"t":41,"i":54},{"t":41.125,"i":51},{"t":41.25,"i":44},{"t":41.375,"i":43},{"t":41.5,"i":57},{"t":41.625,"i":54},{"t":41.75,"i":43},{"t":41.875,"i":58},
      {"t":42,"i":57},{"t":42.125,"i":46},{"t":42.25,"i":45},{"t":42.375,"i":58},{"t":42.5,"i":56},{"t":42.625,"i":45},{"t":42.75,"i":45},{"t":42.875,"i":55},
      {"t":43,"i":58},{"t":43.125,"i":60},{"t":43.25,"i":46},{"t":43.375,"i":46},{"t":43.5,"i":57},{"t":43.625,"i":56},{"t":43.75,"i":44},{"t":43.875,"i":47},
      {"t":44,"i":56},{"t":44.125,"i":56},{"t":44.25,"i":44},{"t":44.375,"i":44},{"t":44.5,"i":55},{"t":44.625,"i":51},{"t":44.75,"i":42},{"t":44.875,"i":42},
      {"t":45,"i":53},{"t":45.125,"i":52},{"t":45.25,"i":42},{"t":45.375,"i":43},{"t":45.5,"i":52},{"t":45.625,"i":51},{"t":45.75,"i":39},{"t":45.875,"i":40},
      {"t":46,"i":50},{"t":46.125,"i":47},{"t":46.25,"i":39},{"t":46.375,"i":38},{"t":46.5,"i":49},{"t":46.625,"i":48},{"t":46.75,"i":38},{"t":46.875,"i":40},
      {"t":47,"i":48},{"t":47.125,"i":38},{"t":47.25,"i":36},{"t":47.375,"i":47},{"t":47.5,"i":46},{"t":47.625,"i":38},{"t":47.75,"i":36},{"t":47.875,"i":45},
      {"t":48,"i":46},{"t":48.125,"i":45},{"t":48.25,"i":35},{"t":48.375,"i":37},{"t":48.5,"i":44},{"t":48.625,"i":43},{"t":48.75,"i":33},{"t":48.875,"i":33},
      {"t":49,"i":43},{"t":49.125,"i":35},{"t":49.25,"i":33},{"t":49.375,"i":42},{"t":49.5,"i":43},{"t":49.625,"i":32},{"t":49.75,"i":32},{"t":49.875,"i":40},
      {"t":50,"i":41},{"t":50.125,"i":40},{"t":50.25,"i":30},{"t":50.375,"i":31},{"t":50.5,"i":41},{"t":50.625,"i":39},{"t":50.75,"i":30},{"t":50.875,"i":31},
      {"t":51,"i":41},{"t":51.125,"i":30},{"t":51.25,"i":30},{"t":51.375,"i":38},{"t":51.5,"i":40},{"t":51.625,"i":31},{"t":51.75,"i":28},{"t":51.875,"i":40},
      {"t":52,"i":39},{"t":52.125,"i":37},{"t":52.25,"i":29},{"t":52.375,"i":30},{"t":52.5,"i":39},{"t":52.625,"i":38},{"t":52.75,"i":28},{"t":52.875,"i":30},
      {"t":53,"i":38},{"t":53.125,"i":29},{"t":53.25,"i":26},{"t":53.375,"i":37},{"t":53.5,"i":37},{"t":53.625,"i":29},{"t":53.75,"i":27},{"t":53.875,"i":36},
      {"t":54,"i":37},{"t":54.125,"i":36},{"t":54.25,"i":26},{"t":54.375,"i":28},{"t":54.5,"i":36},{"t":54.625,"i":35},{"t":54.75,"i":24},{"t":54.875,"i":25},
      {"t":55,"i":35},{"t":55.125,"i":27},{"t":55.25,"i":25},{"t":55.375,"i":34},{"t":55.5,"i":36},{"t":55.625,"i":25},{"t":55.75,"i":24},{"t":55.875,"i":34},
      {"t":56,"i":34},{"t":56.125,"i":33},{"t":56.25,"i":23},{"t":56.375,"i":24},{"t":56.5,"i":34},{"t":56.625,"i":32},{"t":56.75,"i":24},{"t":56.875,"i":25},
      {"t":57,"i":34},{"t":57.125,"i":23},{"t":57.25,"i":23},{"t":57.375,"i":31},{"t":57.5,"i":33},{"t":57.625,"i":24},{"t":57.75,"i":22},{"t":57.875,"i":33},
      {"t":58,"i":33},{"t":58.125,"i":31},{"t":58.25,"i":23},{"t":58.375,"i":24},{"t":58.5,"i":33},{"t":58.625,"i":32},{"t":58.75,"i":22},{"t":58.875,"i":24},
      {"t":59,"i":32},{"t":59.125,"i":23},{"t":59.25,"i":21},{"t":59.375,"i":32},{"t":59.5,"i":31},{"t":59.625,"i":23},{"t":59.75,"i":21},{"t":59.875,"i":30},
      {"t":60,"i":32},{"t":60.125,"i":31},{"t":60.25,"i":21},{"t":60.375,"i":23},{"t":60.5,"i":31},{"t":60.625,"i":30},{"t":60.75,"i":20},{"t":60.875,"i":21},
      {"t":61,"i":31},{"t":61.125,"i":22},{"t":61.25,"i":20},{"t":61.375,"i":30},{"t":61.5,"i":31},{"t":61.625,"i":21},{"t":61.75,"i":20},{"t":61.875,"i":29},
      {"t":62,"i":30},{"t":62.125,"i":29},{"t":62.25,"i":19},{"t":62.375,"i":20},{"t":62.5,"i":30},{"t":62.625,"i":28},{"t":62.75,"i":20},{"t":62.875,"i":21},
      {"t":63,"i":31},{"t":63.125,"i":19},{"t":63.25,"i":20},{"t":63.375,"i":28},{"t":63.5,"i":29},{"t":63.625,"i":21},{"t":63.75,"i":18},{"t":63.875,"i":30},
      {"t":64,"i":29},{"t":64.125,"i":27},{"t":64.25,"i":19},{"t":64.375,"i":20},{"t":64.5,"i":30},{"t":64.625,"i":29},{"t":64.75,"i":19},{"t":64.875,"i":21},
      {"t":65,"i":28},{"t":65.125,"i":19},{"t":65.25,"i":17},{"t":65.375,"i":28},{"t":65.5,"i":28},{"t":65.625,"i":20},{"t":65.75,"i":18},{"t":65.875,"i":27},
      {"t":66,"i":29},{"t":66.125,"i":28},{"t":66.25,"i":18},{"t":66.375,"i":20},{"t":66.5,"i":27},{"t":66.625,"i":26},{"t":66.75,"i":16},{"t":66.875,"i":17},
      {"t":67,"i":27},{"t":67.125,"i":19},{"t":67.25,"i":17},{"t":67.375,"i":26},{"t":67.5,"i":28},{"t":67.625,"i":17},{"t":67.75,"i":16},{"t":67.875,"i":26},
      {"t":68,"i":26},{"t":68.125,"i":25},{"t":68.25,"i":15},{"t":68.375,"i":16},{"t":68.5,"i":26},{"t":68.625,"i":24},{"t":68.75,"i":16},{"t":68.875,"i":17},
      {"t":69,"i":26},{"t":69.125,"i":15},{"t":69.25,"i":15},{"t":69.375,"i":23},{"t":69.5,"i":25},{"t":69.625,"i":16},{"t":69.75,"i":14},{"t":69.875,"i":25},
      {"t":70,"i":23}
    ]
  },
  "encoding": {
    "x": {
      "field": "t",
      "type": "quantitative",
      "scale": {"domain": [10, 70], "nice": false, "zero": false},
      "axis": {
        "title": "2 theta (degree)",
        "values": [10, 15, 20, 25, 30, 35, 40, 45, 50, 55, 60, 65, 70],
        "labelExpr": "datum.value % 10 === 0 ? datum.label : ''",
        "grid": false,
        "domain": false,
        "tickColor": "black",
        "tickWidth": 3,
        "tickSize": {"condition": {"test": "datum.value % 10 === 0", "value": 12}, "value": 6},
        "labelFlush": false,
        "labelOverlap": false,
        "labelFont": "Liberation Sans",
        "labelFontSize": 32,
        "labelFontWeight": "bold",
        "labelColor": "black",
        "labelPadding": 11,
        "titleFont": "Liberation Sans",
        "titleFontSize": 38,
        "titleFontWeight": "bold",
        "titleColor": "black",
        "titlePadding": 22
      }
    },
    "y": {
      "field": "i",
      "type": "quantitative",
      "scale": {"domain": [-2, 736], "nice": false, "zero": false},
      "axis": {
        "title": "Intensity (a.u.)",
        "labels": false,
        "ticks": false,
        "domain": false,
        "grid": false,
        "titleFont": "Liberation Sans",
        "titleFontSize": 38,
        "titleFontWeight": "bold",
        "titleColor": "black",
        "titlePadding": 33
      }
    }
  },
  "layer": [
    {
      "data": {"name": "utc800"},
      "mark": {"type": "line", "strokeWidth": 1.8},
      "encoding": {
        "color": {
          "datum": "UTC-2-800",
          "type": "nominal",
          "scale": {
            "domain": ["UTC-2-800", "UTC-2-700", "UTC-2-600", "Precursor"],
            "range": ["#1f1849", "#6d2180", "#e24b5f", "#fbbd83"]
          },
          "legend": {
            "title": null,
            "orient": "none",
            "legendX": 749,
            "legendY": 9,
            "symbolType": "M-1,0H3",
            "symbolSize": 1190,
            "symbolStrokeWidth": 4,
            "labelFont": "Liberation Sans",
            "labelFontSize": 30,
            "labelFontWeight": "bold",
            "labelColor": "black",
            "labelOffset": 47,
            "rowPadding": 4
          }
        }
      }
    },
    {
      "data": {"name": "utc700"},
      "mark": {"type": "line", "strokeWidth": 1.8},
      "encoding": {"color": {"datum": "UTC-2-700", "type": "nominal"}}
    },
    {
      "data": {"name": "utc600"},
      "mark": {"type": "line", "strokeWidth": 1.8},
      "encoding": {"color": {"datum": "UTC-2-600", "type": "nominal"}}
    },
    {
      "data": {"name": "precursor"},
      "mark": {"type": "line", "strokeWidth": 1.8},
      "encoding": {"color": {"datum": "Precursor", "type": "nominal"}}
    }
  ]
}
